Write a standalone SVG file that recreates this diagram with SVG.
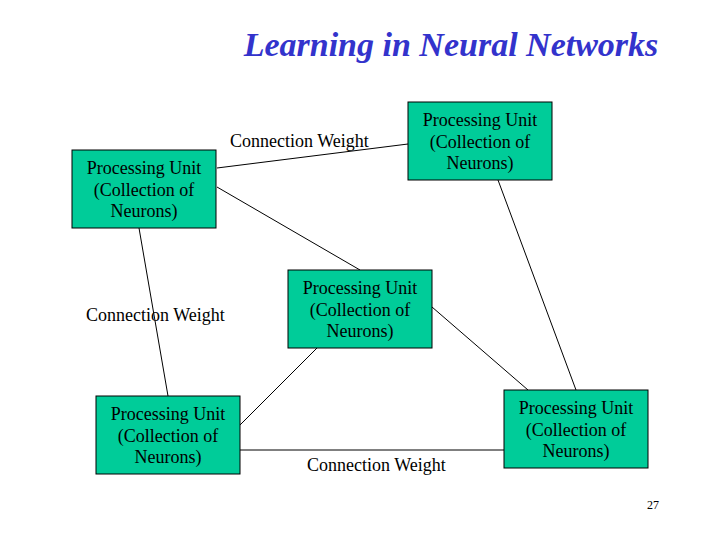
<svg xmlns="http://www.w3.org/2000/svg" width="720" height="540" viewBox="0 0 720 540">
<style>
.box{fill:#00CC99;stroke:#000;stroke-width:1}
.t{font-family:Liberation Serif, serif;font-size:18px;fill:#000}
.c{text-anchor:middle}
.ln{stroke:#000;stroke-width:1;fill:none}
</style>
<rect width="720" height="540" fill="#fff"/>
<text x="451" y="56" text-anchor="middle" font-family="Liberation Serif" font-size="34" font-weight="bold" font-style="italic" fill="#3333CC">Learning in Neural Networks</text>
<g id="connectors">
<line class="ln" x1="217" y1="168" x2="408" y2="144"/>
<line class="ln" x1="217" y1="187" x2="360" y2="270"/>
<line class="ln" x1="139" y1="228" x2="168" y2="396"/>
<line class="ln" x1="240" y1="425" x2="317" y2="348"/>
<line class="ln" x1="240" y1="450" x2="504" y2="450"/>
<line class="ln" x1="432" y1="307" x2="528" y2="390"/>
<line class="ln" x1="498" y1="180" x2="576" y2="390"/>
</g>
<g id="labels">
<text class="t" x="230" y="147">Connection Weight</text>
<text class="t" x="86" y="321">Connection Weight</text>
<text class="t" x="307" y="471">Connection Weight</text>
</g>
<g id="unitA">
<rect class="box" x="72" y="150" width="144" height="78"/>
<text class="t c" x="144" y="174">Processing Unit</text>
<text class="t c" x="144" y="196">(Collection of</text>
<text class="t c" x="144" y="217">Neurons)</text>
</g>
<g id="unitB">
<rect class="box" x="408" y="102" width="144" height="78"/>
<text class="t c" x="480" y="126">Processing Unit</text>
<text class="t c" x="480" y="148">(Collection of</text>
<text class="t c" x="480" y="169">Neurons)</text>
</g>
<g id="unitC">
<rect class="box" x="288" y="270" width="144" height="78"/>
<text class="t c" x="360" y="294">Processing Unit</text>
<text class="t c" x="360" y="316">(Collection of</text>
<text class="t c" x="360" y="337">Neurons)</text>
</g>
<g id="unitD">
<rect class="box" x="96" y="396" width="144" height="78"/>
<text class="t c" x="168" y="420">Processing Unit</text>
<text class="t c" x="168" y="442">(Collection of</text>
<text class="t c" x="168" y="463">Neurons)</text>
</g>
<g id="unitE">
<rect class="box" x="504" y="390" width="144" height="78"/>
<text class="t c" x="576" y="414">Processing Unit</text>
<text class="t c" x="576" y="436">(Collection of</text>
<text class="t c" x="576" y="457">Neurons)</text>
</g>
<text x="659" y="509" text-anchor="end" font-family="Liberation Serif" font-size="12" fill="#000">27</text>
</svg>
